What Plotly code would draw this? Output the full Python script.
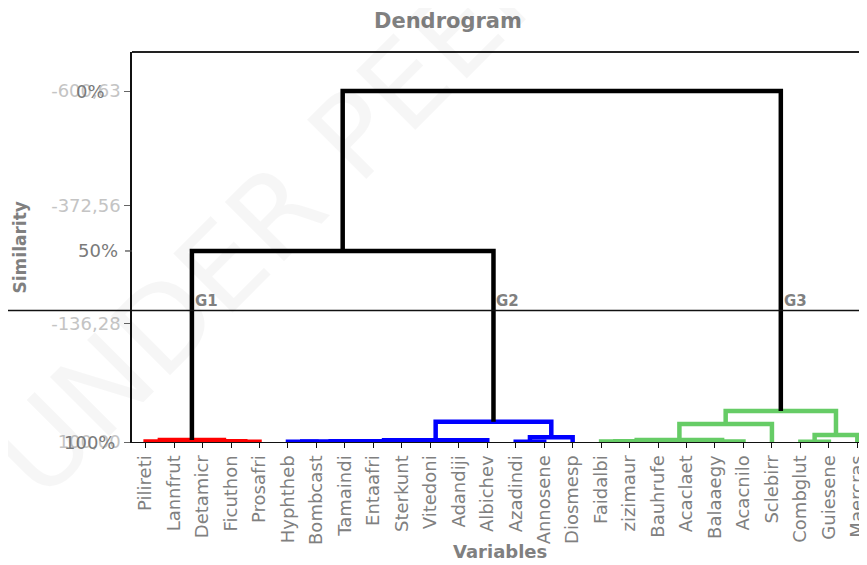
import plotly.graph_objects as go

# ---------------- data ----------------
leaves = ["Pilireti", "Lannfrut", "Detamicr", "Ficuthon", "Prosafri",
          "Hyphtheb", "Bombcast", "Tamaindi", "Entaafri", "Sterkunt",
          "Vitedoni", "Adandiji", "Albichev", "Azadindi", "Annosene",
          "Diosmesp", "Faidalbi", "zizimaur", "Bauhrufe", "Acaclaet",
          "Balaaegy", "Acacnilo", "Sclebirr", "Combglut", "Guiesene",
          "Maercras"]
leaf_level = 100.0

# merges: (child A, child B, level); children are leaf indices (int)
# or earlier merges ("m<k>")
merge_a = [0, 3, 2, "m0",
           5, 7, "m4", 9, "m7", "m6", "m9", 13, "m11", "m10",
           16, "m14", 19, "m16", "m15", "m18", 23, "m20", "m19",
           "m3", "m23"]
merge_b = [1, 4, "m1", "m2",
           6, 8, "m5", 10, 11, "m8", 12, 14, 15, "m12",
           17, 18, 20, 21, "m17", 22, 24, 25, "m21",
           "m13", "m22"]
merge_level = [99.0, 99.3, 98.6, 96.0,
               99.5, 99.5, 99.0, 99.5, 99.0, 98.5, 96.5, 99.3, 90.6, 59.5,
               99.0, 98.5, 99.3, 98.8, 96.0, 64.0, 99.3, 86.0, 38.0,
               -281.3, -600.63]
merge_group = ["G1"] * 4 + ["G2"] * 10 + ["G3"] * 9 + ["top"] * 2
group_color = {"G1": "#ff0000", "G2": "#0000ff", "G3": "#66cc66", "top": "#000000"}

ytick_vals = [-600.63, -372.56, -136.28, 100.0]
ytick_text = ["-600,63", "-372,56", "-136,28", "100,00"]
pct_labels = ["0%", "50%", "100%"]
pct_vals = [-600.63, -281.3, 100.0]
cut_level = -162.5
group_labels = ["G1", "G2", "G3"]
group_label_nodes = ["m3", "m13", "m22"]

# ---------------- layout constants ----------------
OFF = 8  # default page margin of the browser
W, H = 867 - OFF, 565 - OFF
L = 132 - OFF
T = 52 - OFF
R = 0
PB = 442 - OFF  # bottom of plot area in page pixels
B = H - PB
PW = W - L - R
PH = H - T - B
FONT = "DejaVu Sans"
GREY = "#808080"


def px_x(sx):
    """screen x pixel -> paper x"""
    return (sx - OFF - L) / PW


def px_y(sy):
    """screen y pixel -> paper y"""
    return 1 - (sy - OFF - T) / PH


fig = go.Figure()

pos = {}
hgt = {}
for i in range(len(leaves)):
    pos[i] = float(i)
    hgt[i] = leaf_level

for k, (a, b, lv) in enumerate(zip(merge_a, merge_b, merge_level)):
    xa, xb = pos[a], pos[b]
    ha, hb = hgt[a], hgt[b]
    col = group_color[merge_group[k]]
    fig.add_trace(go.Scatter(
        x=[xa, xa, xb, xb], y=[ha, lv, lv, hb], mode="lines",
        line=dict(color=col, width=4.5), hoverinfo="skip", showlegend=False))
    name = "m%d" % k
    pos[name] = (xa + xb) / 2
    hgt[name] = lv

# cut line across the whole width
fig.add_shape(type="line", xref="paper", yref="y",
              x0=px_x(0), x1=1, y0=cut_level, y1=cut_level,
              line=dict(color="#111111", width=1.3))
# top border
fig.add_shape(type="line", xref="paper", yref="paper", x0=0, x1=1, y0=1, y1=1,
              line=dict(color="#222222", width=2))
# tick at 50%
fig.add_shape(type="line", xref="paper", yref="y", x0=-7 / PW, x1=0,
              y0=pct_vals[1], y1=pct_vals[1], line=dict(color="#444444", width=1.2))

# percent labels (overlapping the numeric ones)
pct_right_px = [107, 120, 117]
for lab, v, rx in zip(pct_labels, pct_vals, pct_right_px):
    fig.add_annotation(text=lab, xref="paper", yref="y", x=px_x(rx), y=v,
                       xanchor="right", yanchor="middle", showarrow=False,
                       font=dict(family=FONT, size=18, color="#7a7a7a"))

# group labels
for lab, node in zip(group_labels, group_label_nodes):
    fig.add_annotation(text="<b>%s</b>" % lab, x=pos[node], y=cut_level,
                       xanchor="left", yanchor="bottom", xshift=1, yshift=-1,
                       showarrow=False,
                       font=dict(family=FONT, size=15, color=GREY))

# titles
fig.add_annotation(text="<b>Dendrogram</b>", xref="paper", yref="paper",
                   x=px_x(449), y=px_y(21), xanchor="center",
                   yanchor="middle", showarrow=False,
                   font=dict(family=FONT, size=21, color=GREY))
fig.add_annotation(text="<b>Variables</b>", xref="paper", yref="paper",
                   x=px_x(502), y=px_y(551), xanchor="center",
                   yanchor="middle", showarrow=False,
                   font=dict(family=FONT, size=18, color=GREY))
fig.add_annotation(text="<b>Similarity</b>", xref="paper", yref="paper",
                   x=px_x(20), y=px_y(247), xanchor="center",
                   yanchor="middle", textangle=-90, showarrow=False,
                   font=dict(family=FONT, size=17, color=GREY))

# faint watermark
fig.add_annotation(text="UNDER PEER REVIEW", xref="paper", yref="paper",
                   x=px_x(450), y=px_y(40), xanchor="center",
                   yanchor="middle", textangle=-45, showarrow=False,
                   font=dict(family=FONT, size=115, color="rgba(0,0,0,0.035)"))

x_left = -(145.7 - 132) / 28.584
x_right = (867 - 145.7) / 28.584
fig.update_layout(
    width=W, height=H,
    margin=dict(l=L, r=R, t=T, b=B, pad=0),
    paper_bgcolor="white", plot_bgcolor="white",
    xaxis=dict(range=[x_left, x_right], tickvals=list(range(len(leaves))),
               ticktext=leaves, tickangle=-90, showgrid=False, zeroline=False,
               showline=True, linecolor="#111111", linewidth=1.2,
               ticks="outside", ticklen=5, tickcolor="#111111",
               ticklabeloverflow="allow",
               tickfont=dict(family=FONT, size=18, color=GREY)),
    yaxis=dict(range=[100, -678.5], tickvals=ytick_vals, ticktext=ytick_text,
               showgrid=False, zeroline=False, showline=True,
               linecolor="#111111", linewidth=1.5, ticks="outside", ticklen=6,
               tickcolor="#666666",
               tickfont=dict(family=FONT, size=18, color="#c4c4c4")),
)

fig.write_html("out.html")
